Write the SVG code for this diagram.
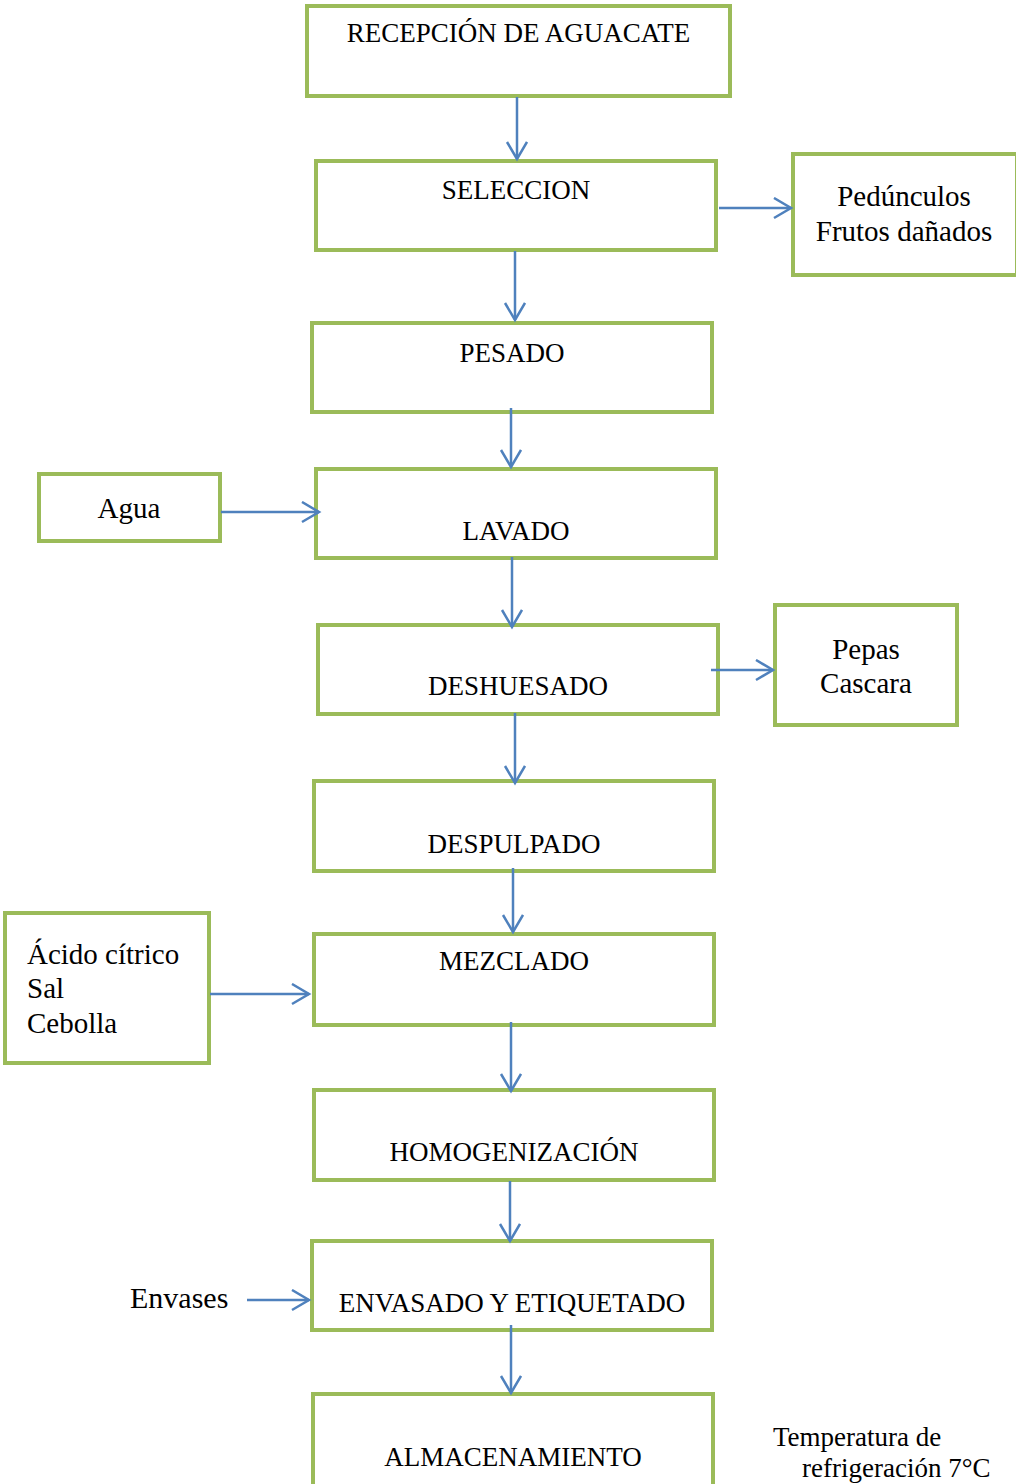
<svg xmlns="http://www.w3.org/2000/svg" width="1016" height="1484" viewBox="0 0 1016 1484">
<style>
.box{fill:#fff;stroke:#9BBB59;stroke-width:4}
.t{font-family:"Liberation Serif","Times New Roman",serif;font-size:27px;fill:#000;text-anchor:middle}
.s{font-family:"Liberation Serif","Times New Roman",serif;font-size:29px;fill:#000}
.c{stroke:#4F81BD;stroke-width:2.5;fill:none;marker-end:url(#ah)}
</style>
<defs>
<marker id="ah" markerWidth="24" markerHeight="24" refX="19" refY="11" orient="auto" markerUnits="userSpaceOnUse">
<path d="M2,1 L19,11 L2,21" fill="none" stroke="#4F81BD" stroke-width="2.5"/>
</marker>
</defs>
<rect width="1016" height="1484" fill="#fff"/>
<g id="recepcion"><rect class="box" x="307" y="6" width="423" height="90"/><text class="t" x="518.5" y="42">RECEPCIÓN DE AGUACATE</text></g>
<g id="seleccion"><rect class="box" x="316" y="161" width="400" height="89"/><text class="t" x="516" y="199">SELECCION</text></g>
<g id="pedunculos"><rect class="box" x="793" y="154" width="224" height="121"/><text class="s" x="904" y="206" text-anchor="middle">Pedúnculos</text><text class="s" x="904" y="241" text-anchor="middle">Frutos dañados</text></g>
<g id="pesado"><rect class="box" x="312" y="323" width="400" height="89"/><text class="t" x="512" y="362">PESADO</text></g>
<g id="agua"><rect class="box" x="39" y="474" width="181" height="67"/><text class="s" x="129" y="518" text-anchor="middle">Agua</text></g>
<g id="lavado"><rect class="box" x="316" y="469" width="400" height="89"/><text class="t" x="516" y="540">LAVADO</text></g>
<g id="deshuesado"><rect class="box" x="318" y="625" width="400" height="89"/><text class="t" x="518" y="695">DESHUESADO</text></g>
<g id="pepas"><rect class="box" x="775" y="605" width="182" height="120"/><text class="s" x="866" y="659" text-anchor="middle">Pepas</text><text class="s" x="866" y="693" text-anchor="middle">Cascara</text></g>
<g id="despulpado"><rect class="box" x="314" y="781" width="400" height="90"/><text class="t" x="514" y="853">DESPULPADO</text></g>
<g id="acido"><rect class="box" x="5" y="913" width="204" height="150"/><text class="s" x="27" y="964">Ácido cítrico</text><text class="s" x="27" y="998">Sal</text><text class="s" x="27" y="1033">Cebolla</text></g>
<g id="mezclado"><rect class="box" x="314" y="934" width="400" height="91"/><text class="t" x="514" y="970">MEZCLADO</text></g>
<g id="homogenizacion"><rect class="box" x="314" y="1090" width="400" height="90"/><text class="t" x="514" y="1161">HOMOGENIZACIÓN</text></g>
<g id="envases"><text class="s" x="130" y="1308" style="font-size:30px">Envases</text></g>
<g id="envasado"><rect class="box" x="312" y="1241" width="400" height="89"/><text class="t" x="512" y="1312">ENVASADO Y ETIQUETADO</text></g>
<g id="almacenamiento"><rect class="box" x="313" y="1394" width="400" height="94"/><text class="t" x="513" y="1466">ALMACENAMIENTO</text></g>
<g id="temperatura"><text class="s" x="773" y="1446" style="font-size:27px">Temperatura de</text><text class="s" x="802" y="1477" style="font-size:27px">refrigeración 7°C</text></g>
<g id="connectors">
<line class="c" x1="517" y1="97" x2="517" y2="159"/>
<line class="c" x1="719" y1="208" x2="791" y2="208"/>
<line class="c" x1="515" y1="251" x2="515" y2="320"/>
<line class="c" x1="511" y1="408" x2="511" y2="467"/>
<line class="c" x1="221" y1="512" x2="319" y2="512"/>
<line class="c" x1="512" y1="557" x2="512" y2="627"/>
<line class="c" x1="711" y1="670" x2="773" y2="670"/>
<line class="c" x1="515" y1="713" x2="515" y2="783"/>
<line class="c" x1="513" y1="868" x2="513" y2="932"/>
<line class="c" x1="210" y1="994" x2="309" y2="994"/>
<line class="c" x1="511" y1="1022" x2="511" y2="1091"/>
<line class="c" x1="510" y1="1181" x2="510" y2="1241"/>
<line class="c" x1="247" y1="1300" x2="309" y2="1300"/>
<line class="c" x1="511" y1="1325" x2="511" y2="1393"/>
</g>
</svg>
